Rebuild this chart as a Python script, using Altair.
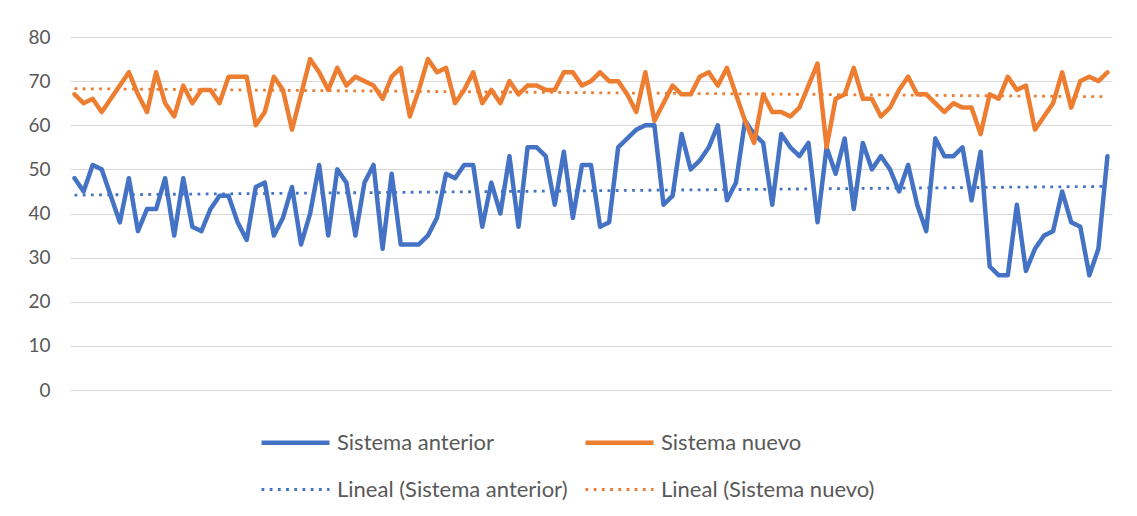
import altair as alt
import pandas as pd

anterior = [48, 45, 51, 50, 44, 38, 48, 36, 41, 41, 48, 35, 48, 37, 36,
            41, 44, 44, 38, 34, 46, 47, 35, 39, 46, 33, 40, 51, 35, 50,
            47, 35, 47, 51, 32, 49, 33, 33, 33, 35, 39, 49, 48, 51, 51,
            37, 47, 40, 53, 37, 55, 55, 53, 42, 54, 39, 51, 51, 37, 38,
            55, 57, 59, 60, 60, 42, 44, 58, 50, 52, 55, 60, 43, 47, 61,
            58, 56, 42, 58, 55, 53, 56, 38, 55, 49, 57, 41, 56, 50, 53,
            50, 45, 51, 42, 36, 57, 53, 53, 55, 43, 54, 28, 26, 26, 42,
            27, 32, 35, 36, 45, 38, 37, 26, 32, 53]

nuevo = [67, 65, 66, 63, 66, 69, 72, 67, 63, 72, 65, 62, 69, 65, 68,
         68, 65, 71, 71, 71, 60, 63, 71, 68, 59, 67, 75, 72, 68, 73,
         69, 71, 70, 69, 66, 71, 73, 62, 68, 75, 72, 73, 65, 68, 72,
         65, 68, 65, 70, 67, 69, 69, 68, 68, 72, 72, 69, 70, 72, 70,
         70, 67, 63, 72, 61, 65, 69, 67, 67, 71, 72, 69, 73, 67, 61,
         56, 67, 63, 63, 62, 64, 69, 74, 55, 66, 67, 73, 66, 66, 62,
         64, 68, 71, 67, 67, 65, 63, 65, 64, 64, 58, 67, 66, 71, 68,
         69, 59, 62, 65, 72, 64, 70, 71, 70, 72]

series_names = ["Sistema anterior", "Sistema nuevo"]
legend_names = ["Sistema anterior", "Sistema nuevo",
                "Lineal (Sistema anterior)", "Lineal (Sistema nuevo)"]
y_ticks = [0, 10, 20, 30, 40, 50, 60, 70, 80]

rows = []
for name, vals in zip(series_names, [anterior, nuevo]):
    for i, v in enumerate(vals):
        rows.append({"idx": i, "value": v, "series": name})
df = pd.DataFrame(rows)
n = len(anterior)

BLUE = "#4472C4"
ORANGE = "#ED7D31"
FONT = "Lato"

color = alt.Color("name:N", scale=alt.Scale(domain=legend_names,
                  range=[BLUE, ORANGE, BLUE, ORANGE]),
                  legend=alt.Legend(title=None, orient="none", legendX=189, legendY=369,
                                    direction="horizontal",
                                    columns=2, columnPadding=8, rowPadding=-21,
                                    symbolType="stroke", symbolSize=4624,
                                    labelFont=FONT, labelFontSize=22, labelColor="#595959",
                                    labelOffset=5, labelLimit=400))
dash = alt.StrokeDash("name:N", scale=alt.Scale(domain=legend_names,
                      range=[[1, 0], [1, 0], [2.8, 5.4], [2.8, 5.4]]))
width = alt.StrokeWidth("name:N", scale=alt.Scale(type="ordinal", domain=legend_names,
                        range=[4.5, 4.5, 2.8, 2.8]))

xenc = alt.X("idx:Q", scale=alt.Scale(domain=[-0.5, n - 0.5], nice=False, zero=False), axis=None)
yenc = alt.Y("value:Q", scale=alt.Scale(domain=[0, 80], nice=False),
             axis=alt.Axis(values=y_ticks, title=None, domain=False, ticks=False,
                           grid=True, gridColor="#d9d9d9", gridWidth=1,
                           labelFont=FONT, labelFontSize=19, labelColor="#595959",
                           labelPadding=20))

trend = alt.Chart(df).transform_regression(
    "idx", "value", groupby=["series"], extent=[0, n - 1]
).transform_calculate(
    name="'Lineal (' + datum.series + ')'"
).mark_line(strokeCap="butt").encode(x=xenc, y=yenc, color=color, strokeDash=dash, strokeWidth=width)

lines = alt.Chart(df).transform_calculate(name="datum.series").mark_line(
    strokeJoin="round", strokeCap="round"
).encode(x=xenc, y=yenc, color=color, strokeDash=dash, strokeWidth=width,
         order="idx:Q")

chart = alt.layer(trend, lines).properties(
    width=1042, height=353,
    autosize=alt.AutoSizeParams(type="none"),
    padding={"left": 62, "top": 29, "right": 10, "bottom": 118},
).configure_view(stroke=None)

chart.save("out.html", embed_options={"renderer": "svg", "actions": False})
